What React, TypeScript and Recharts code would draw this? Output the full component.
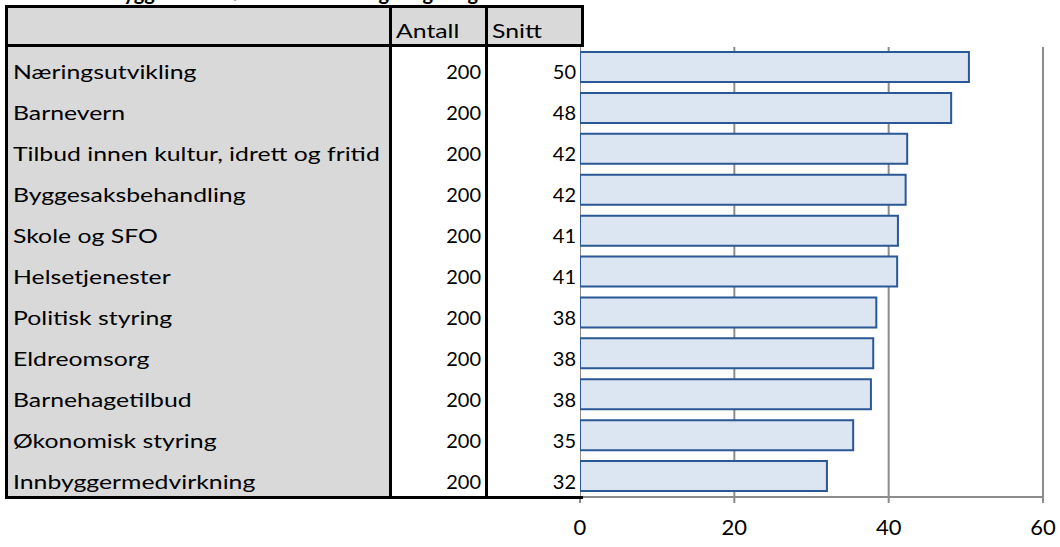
import { BarChart, Bar, XAxis, YAxis, CartesianGrid } from "recharts"

const categories = [
  "Næringsutvikling",
  "Barnevern",
  "Tilbud innen kultur, idrett og fritid",
  "Byggesaksbehandling",
  "Skole og SFO",
  "Helsetjenester",
  "Politisk styring",
  "Eldreomsorg",
  "Barnehagetilbud",
  "Økonomisk styring",
  "Innbyggermedvirkning",
]
const antall = [200, 200, 200, 200, 200, 200, 200, 200, 200, 200, 200]
const snitt = [50.4, 48.1, 42.4, 42.2, 41.2, 41.1, 38.4, 38.0, 37.7, 35.4, 32.0]
const xTicks = [0, 20, 40, 60]
const headers = ["", "Antall", "Snitt"]
const title = "Innbyggerundersøkelsen – snitt og rangering"

const data = categories.map((name, i) => ({ name, antall: antall[i], value: snitt[i] }))

const FONT = "Lato, 'Open Sans', sans-serif"
const GRID = "#8c8c8c"
const PLOT_TOP = 47
const PLOT_H = 450
const BAND = PLOT_H / categories.length
const STRETCH = 1.24 // the source table text is drawn wide

function RowTick(props: any) {
  const { y, payload, index } = props
  const row = data[index] ?? data.find((d) => d.name === payload.value)
  const top = y - BAND / 2 - 0.5
  const h = BAND + 1
  return (
    <g>
      <rect x={8} y={top} width={381} height={h} fill="#d9d9d9" />
      <rect x={392} y={top} width={93} height={h} fill="#fff" />
      <rect x={488} y={top} width={92} height={h} fill="#fff" />
      <rect x={5} y={top} width={3} height={h} fill="#000" />
      <rect x={389} y={top} width={3} height={h} fill="#000" />
      <rect x={485} y={top} width={3} height={h} fill="#000" />
      <text
        transform={`translate(13 ${y + 12}) scale(${STRETCH} 1)`}
        fontSize={20}
        fontFamily={FONT}
        fill="#000"
      >
        {payload.value}
      </text>
      <text x={481} y={y + 12} fontSize={20} fontFamily={FONT} fill="#000" textAnchor="end">
        {row?.antall}
      </text>
      <text x={576} y={y + 12} fontSize={20} fontFamily={FONT} fill="#000" textAnchor="end">
        {row ? Math.round(row.value) : ""}
      </text>
    </g>
  )
}

export default function App() {
  return (
    <div style={{ position: "absolute", left: 0, top: 0, width: 1060, height: 547, background: "#fff", overflow: "hidden" }}>
      <BarChart
        width={1060}
        height={547}
        data={data}
        layout="vertical"
        barSize={30}
        margin={{ top: PLOT_TOP, right: 17, bottom: 0, left: 8 }}
      >
        <CartesianGrid horizontal={false} vertical={true} stroke={GRID} strokeWidth={2} />
        <XAxis
          type="number"
          domain={[0, 60]}
          ticks={xTicks}
          height={50}
          axisLine={{ stroke: GRID, strokeWidth: 2 }}
          tickLine={{ stroke: GRID, strokeWidth: 2 }}
          tickSize={6}
          tickMargin={16}
          tick={{ fill: "#000", fontSize: 22, fontFamily: FONT }}
        />
        <YAxis
          type="category"
          dataKey="name"
          width={572}
          axisLine={false}
          tickLine={false}
          interval={0}
          tick={<RowTick />}
        />
        <Bar dataKey="value" fill="#dce6f2" stroke="#2a5795" strokeWidth={2} isAnimationActive={false} />
      </BarChart>

      {/* title, cut off at the top like in the source */}
      <div style={{ position: "absolute", left: 0, top: 0, width: 1060, height: 4, overflow: "hidden" }}>
        <div style={{ position: "absolute", left: 84, top: -20, fontFamily: FONT, fontWeight: 700, fontSize: 20, lineHeight: "24px", whiteSpace: "nowrap" }}>
          {title}
        </div>
      </div>

      {/* header row */}
      <div
        style={{
          position: "absolute",
          left: 5,
          top: 5,
          width: 579,
          height: 42,
          boxSizing: "border-box",
          border: "3px solid #000",
          background: "#d9d9d9",
          display: "flex",
          fontFamily: FONT,
          fontSize: 20,
        }}
      >
        {headers.map((h, i) => (
          <div
            key={i}
            style={{
              width: i === 0 ? 381 : i === 1 ? 96 : 93,
              borderLeft: i === 0 ? "none" : "3px solid #000",
              boxSizing: "border-box",
              paddingLeft: 4,
              lineHeight: "36px",
              paddingTop: 4,
              whiteSpace: "nowrap",
            }}
          >
            <span style={{ display: "inline-block", transform: `scaleX(${STRETCH})`, transformOrigin: "left" }}>{h}</span>
          </div>
        ))}
      </div>

      {/* table bottom line */}
      <div style={{ position: "absolute", left: 5, top: 496, width: 578, height: 3, background: "#000" }} />
    </div>
  )
}
